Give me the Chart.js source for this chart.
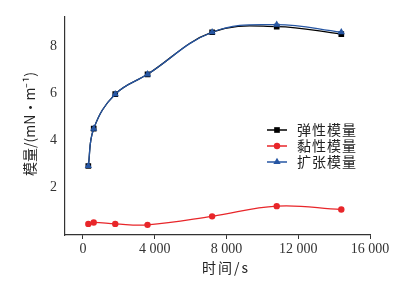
<!DOCTYPE html>
<html><head><meta charset="utf-8">
<script src="https://cdn.jsdelivr.net/npm/chart.js@4/dist/chart.umd.min.js"></script>
<style>html,body{margin:0;padding:0;background:#fff}#wrap{width:419px;height:283px}</style>
</head><body><div id="wrap"><canvas id="c"></canvas></div>
<script>
const times = [300, 600, 1800, 3600, 7200, 10800, 14400];
const elastic = [2.92, 4.5, 5.96, 6.8, 8.58, 8.82, 8.5];
const viscous = [0.47, 0.53, 0.47, 0.43, 0.79, 1.22, 1.08];
const expansion = [2.92, 4.5, 5.96, 6.8, 8.58, 8.9, 8.58];
const seriesNames = ['弹性模量', '黏性模量', '扩张模量'];
const xTicks = [0, 4000, 8000, 12000, 16000];
const yTicks = [2, 4, 6, 8];
const xTitle = '时间/s';
const yTitle = '模量/(mN·m⁻¹)';

const colors = ['#000000', '#e8262a', '#2656a3'];
const styles = ['rect', 'circle', 'triangle'];
const radii = [4, 3.2, 4.2];
const pts = arr => arr.map((v, i) => ({x: times[i], y: v}));
const fmt = v => String(v).replace(/\B(?=(\d{3})+(?!\d))/g, ' ');
const serif = '"Liberation Serif", "DejaVu Serif", serif';
const cjk = '"Noto Sans CJK SC", sans-serif';

const dataArr = [elastic, viscous, expansion];
const datasets = dataArr.map((d, i) => ({
  label: seriesNames[i], data: pts(d),
  borderColor: colors[i], backgroundColor: colors[i],
  pointStyle: styles[i], pointRadius: radii[i], pointBorderWidth: 0,
  borderWidth: 1.3, tension: 0.4, order: [2, 1, 0][i]
}));

const overlay = {
  id: 'overlay',
  afterDraw(chart) {
    const ctx = chart.ctx;
    ctx.save();
    // legend
    const lx = 267, ly = 130, gap = 16;
    seriesNames.forEach((n, i) => {
      const y = ly + i * gap;
      ctx.strokeStyle = colors[i]; ctx.lineWidth = 1.5;
      ctx.beginPath(); ctx.moveTo(lx, y); ctx.lineTo(lx + 20, y); ctx.stroke();
      ctx.fillStyle = colors[i];
      Chart.helpers.drawPoint(ctx, {pointStyle: styles[i], radius: radii[i], borderWidth: 0, rotation: 0}, lx + 10, y);
      ctx.fillStyle = '#222';
      ctx.font = '14px ' + cjk;
      ctx.textBaseline = 'middle'; ctx.textAlign = 'left';
      ctx.letterSpacing = '1px';
      ctx.fillText(n, lx + 30, y);
    });
    // axis titles
    ctx.letterSpacing = '2px';
    ctx.font = '14px ' + cjk;
    ctx.fillStyle = '#222';
    ctx.textAlign = 'center'; ctx.textBaseline = 'middle';
    ctx.fillText(xTitle, 226, 268);
    ctx.translate(30, 124); ctx.rotate(-Math.PI / 2);
    ctx.letterSpacing = '0px';
    ctx.fillText(yTitle, 0, 0);
    ctx.restore();
  }
};

new Chart(document.getElementById('c'), {
  type: 'line',
  data: {datasets},
  options: {
    responsive: true, maintainAspectRatio: false, animation: false,
    layout: {padding: {top: 14, right: 49, bottom: 0, left: 0}},
    plugins: {legend: {display: false}, tooltip: {enabled: false}},
    scales: {
      x: {
        type: 'linear', min: -1000, max: 16000,
        afterBuildTicks: s => { s.ticks = xTicks.map(v => ({value: v})); },
        afterFit: s => { s.height = 48; },
        border: {color: '#333', width: 1.2},
        grid: {drawOnChartArea: false, tickLength: 4, color: '#333'},
        ticks: {color: '#333', font: {family: serif, size: 14}, padding: 2, maxRotation: 0, callback: v => fmt(v)}
      },
      y: {
        type: 'linear', min: 0, max: 9.25,
        afterBuildTicks: s => { s.ticks = yTicks.map(v => ({value: v})); },
        afterFit: s => { s.width = 65; },
        border: {color: '#333', width: 1.2},
        grid: {drawOnChartArea: false, drawTicks: false},
        ticks: {color: '#333', font: {family: serif, size: 14}, padding: 8}
      }
    }
  },
  plugins: [overlay]
});
</script></body></html>
